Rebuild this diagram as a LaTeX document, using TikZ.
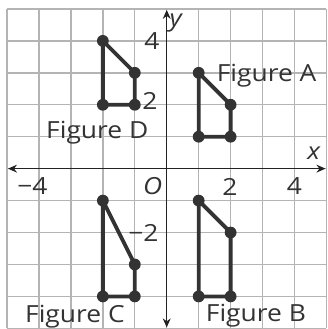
\documentclass[tikz,border=0pt]{standalone}
\usepackage{fontspec}
\setmainfont[FakeStretch=1.12]{Open Sans}
\usetikzlibrary{arrows.meta}
\definecolor{gridgray}{HTML}{B4B4B4}
\definecolor{axisc}{HTML}{222222}
\definecolor{figc}{HTML}{333333}
\begin{document}
\begin{tikzpicture}[
  gridline/.style={draw=gridgray, line width=1.2pt},
  axisline/.style={draw=axisc, line width=1.1pt, {Stealth[length=8pt,width=7pt]}-{Stealth[length=8pt,width=7pt]}},
  figline/.style={draw=figc, line width=3.4pt, line join=round},
  vtx/.style={circle, fill=figc, inner sep=0pt, minimum size=0.37cm},
  lbl/.style={font=\fontsize{21}{24}\selectfont, text=figc, inner sep=0pt},
  ilbl/.style={font=\fontsize{21}{24}\selectfont\itshape, text=figc, inner sep=0pt},
]
\useasboundingbox (-5.22,-5.02) rectangle (5.02,5.28);
\fill[white] (-5.22,-5.02) rectangle (5.02,5.28);
\draw[gridline] (-5,-5) grid (5,5);

\coordinate (xl) at (-4.97,0);
\coordinate (xr) at (4.97,0);
\coordinate (yb) at (0,-4.97);
\coordinate (yt) at (0,4.97);
\draw[axisline] (xl) -- (xr);
\draw[axisline] (yb) -- (yt);

% Figure A
\node[vtx] (A1) at (1,3) {};
\node[vtx] (A2) at (2,2) {};
\node[vtx] (A3) at (2,1) {};
\node[vtx] (A4) at (1,1) {};
\draw[figline] (A1.center) -- (A2.center) -- (A3.center) -- (A4.center) -- cycle;
% Figure B
\node[vtx] (B1) at (1,-1) {};
\node[vtx] (B2) at (2,-2) {};
\node[vtx] (B3) at (2,-4) {};
\node[vtx] (B4) at (1,-4) {};
\draw[figline] (B1.center) -- (B2.center) -- (B3.center) -- (B4.center) -- cycle;
% Figure C
\node[vtx] (C1) at (-2,-1) {};
\node[vtx] (C2) at (-1,-3) {};
\node[vtx] (C3) at (-1,-4) {};
\node[vtx] (C4) at (-2,-4) {};
\draw[figline] (C1.center) -- (C2.center) -- (C3.center) -- (C4.center) -- cycle;
% Figure D
\node[vtx] (D1) at (-2,4) {};
\node[vtx] (D2) at (-1,3) {};
\node[vtx] (D3) at (-1,2) {};
\node[vtx] (D4) at (-2,2) {};
\draw[figline] (D1.center) -- (D2.center) -- (D3.center) -- (D4.center) -- cycle;

% figure labels
\node[lbl, anchor=base west] (LA) at (1.56,2.72) {Figure A};
\node[lbl, anchor=base west] (LD) at (-3.78,0.94) {Figure D};
\node[lbl, anchor=base west] (LC) at (-4.44,-4.81) {Figure C};
\node[lbl, anchor=base west] (LB) at (1.22,-4.78) {Figure B};

% tick labels
\node[lbl, anchor=base east] (y4) at (-0.22,3.72) {4};
\node[lbl, anchor=base east] (y2) at (-0.28,1.84) {2};
\node[lbl, anchor=base east] (ym2) at (-0.25,-2.28) {−2};
\node[lbl, anchor=base] (xm4) at (-3.97,-0.81) {\llap{−}4};
\node[lbl, anchor=base] (x2) at (1.98,-0.84) {2};
\node[lbl, anchor=base] (x4) at (4.0,-0.81) {4};
\node[ilbl, anchor=base] (O) at (-0.44,-0.81) {O};
\node[ilbl, anchor=base] (xlab) at (4.6,0.28) {x};
\node[ilbl, anchor=base] (ylab) at (0.28,4.44) {y};
\end{tikzpicture}
\end{document}
